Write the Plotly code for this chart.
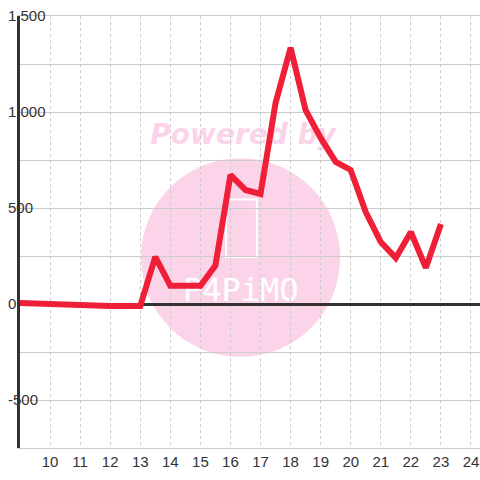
import plotly.graph_objects as go

# data
x_vals = [9, 9.5, 10, 10.5, 11, 11.5, 12, 12.5, 13, 13.5, 14, 14.5, 15, 15.5, 16,
          16.5, 17, 17.5, 18, 18.5, 19, 19.5, 20, 20.5, 21, 21.5, 22, 22.5, 23]
y_vals = [5, 2, -2, -6, -10, -10, -10, -10, -10, 245, 95, 95, 95, 200, 672,
          594, 573, 1047, 1335, 1010, 865, 740, 698, 479, 323, 240, 375, 188, 417]
x_ticks = list(range(10, 25))
y_tickvals = [-500, 0, 500, 1000, 1500]
y_ticktext = ["-500", "0", "500", "1,000", "1,500"]

fig = go.Figure()
fig.add_trace(go.Scatter(x=x_vals, y=y_vals, mode="lines",
                         line=dict(color="#ee1f37", width=6), hoverinfo="skip"))

font_family = "Liberation Sans, Arial, sans-serif"

# watermark
fig.add_shape(type="circle", xref="paper", yref="paper",
              x0=0.263, x1=0.696, y0=0.2106, y1=0.671,
              fillcolor="#fbd4ea", line=dict(width=0), layer="below")
fig.add_shape(type="rect", xref="paper", yref="paper",
              x0=0.448, x1=0.515, y0=0.442, y1=0.575,
              fillcolor="rgba(0,0,0,0)", line=dict(color="white", width=2), layer="below")
fig.add_shape(type="rect", xref="paper", yref="paper",
              x0=0.30, x1=0.66, y0=0.33, y1=0.41,
              fillcolor="rgba(0,0,0,0)", line=dict(width=0), layer="below",
              label=dict(text="P4PiMO", font=dict(color="white", size=32,
                                                 family="DejaVu Sans Mono")))
fig.add_shape(type="rect", xref="paper", yref="paper",
              x0=0.2, x1=0.77, y0=0.69, y1=0.77,
              fillcolor="rgba(0,0,0,0)", line=dict(width=0), layer="below",
              label=dict(text="Powered by", font=dict(color="#fbd4ea", size=28,
                                                     family="DejaVu Sans",
                                                     weight="bold", style="italic")))

fig.update_layout(
    width=480, height=480,
    margin=dict(l=20, r=0, t=16, b=32),
    paper_bgcolor="white", plot_bgcolor="white",
    showlegend=False,
    font=dict(family=font_family, size=15, color="#333333"),
)
fig.update_xaxes(
    range=[9, 24.3], tickvals=x_ticks, ticks="",
    showgrid=True, gridcolor="#cccccc", gridwidth=1, griddash="3px,3px",
    zeroline=False, showline=True, linecolor="#cccccc", linewidth=1, mirror=True,
    tickfont=dict(size=15, color="#333333"), ticklabeloverflow="allow",
)
fig.update_yaxes(
    range=[-750, 1500], tickvals=y_tickvals, ticktext=y_ticktext, ticks="",
    showgrid=True, gridcolor="#cccccc", gridwidth=1,
    minor=dict(dtick=250, showgrid=True, gridcolor="#cccccc", gridwidth=1),
    zeroline=True, zerolinecolor="#333333", zerolinewidth=3,
    showline=True, linecolor="#333333", linewidth=3,
    ticklabelposition="inside", ticklabelstandoff=-12, ticklabeloverflow="allow",
    tickfont=dict(size=15, color="#333333"),
)

fig.write_html("out.html", config={"displayModeBar": False},
               post_script="document.body.style.margin='0';")
